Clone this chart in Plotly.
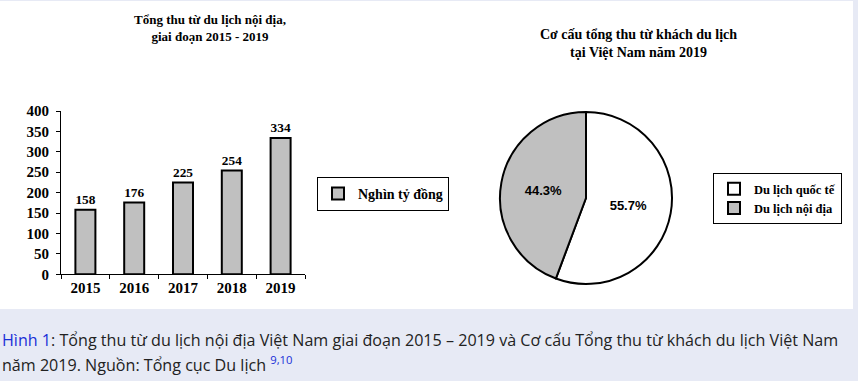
import plotly.graph_objects as go

W, H = 858, 381

years = ["2015", "2016", "2017", "2018", "2019"]
revenue = [158, 176, 225, 254, 334]
bar_series_name = "Nghìn tỷ đồng"

pie_labels = ["Du lịch quốc tế", "Du lịch nội địa"]
pie_values = [55.7, 44.3]
pie_colors = ["#ffffff", "#c0c0c0"]

y_ticks = [0, 50, 100, 150, 200, 250, 300, 350, 400]

bar_title = "Tổng thu từ du lịch nội địa,<br>giai đoạn 2015 - 2019"
pie_title = "Cơ cấu tổng thu từ khách du lịch<br>tại Việt Nam năm 2019"
caption_1 = ("<span style='color:#1a2fd8'>Hình 1</span>: Tổng thu từ du lịch nội địa Việt Nam "
             "giai đoạn 2015 – 2019 và Cơ cấu Tổng thu từ khách du lịch Việt Nam")
caption_2 = "năm 2019. Nguồn: Tổng cục Du lịch <sup><span style='color:#1a2fd8'>9,10</span></sup>"


def px_x(x):
    return x / W


def px_y(y):
    return 1 - y / H


SERIF = "Liberation Serif, Times New Roman, serif"
SANS = "Liberation Sans, Arial, sans-serif"
CAP = "Open Sans, Noto Sans, sans-serif"

fig = go.Figure()

fig.add_trace(go.Bar(
    x=years, y=revenue, name=bar_series_name,
    marker=dict(color="#c0c0c0", line=dict(color="black", width=2)),
    width=0.41,
    text=[str(v) for v in revenue], textposition="outside",
    textfont=dict(family=SERIF, size=14, color="black", weight="bold"),
    cliponaxis=False, showlegend=True, legend="legend",
    xaxis="x", yaxis="y",
))

fig.add_trace(go.Pie(
    labels=pie_labels, values=pie_values, sort=False, direction="clockwise", rotation=0,
    marker=dict(colors=pie_colors, line=dict(color="black", width=2)),
    texttemplate="%{percent:.1%}", textposition="inside", insidetextorientation="horizontal",
    textfont=dict(family=SANS, size=13, color="black", weight="bold"),
    domain=dict(x=[px_x(500), px_x(672)], y=[px_y(285), px_y(111)]),
    legend="legend2", hoverinfo="label+percent",
))

fig.update_layout(
    width=W, height=H,
    margin=dict(l=0, r=0, t=0, b=0, autoexpand=False),
    paper_bgcolor="#e7eaf5",
    plot_bgcolor="white",
    xaxis=dict(
        domain=[px_x(61), px_x(305)], type="category",
        showline=True, linecolor="black", linewidth=1,
        ticks="outside", tickson="boundaries", ticklen=4, tickcolor="black",
        tickfont=dict(family=SERIF, size=15, color="black", weight="bold"),
        showgrid=False, zeroline=False, anchor="y", automargin=False,
    ),
    yaxis=dict(
        domain=[px_y(274.3), px_y(111)], range=[0, 400],
        tickvals=y_ticks,
        showline=True, linecolor="black", linewidth=1,
        ticks="outside", ticklen=4, tickcolor="black",
        tickfont=dict(family=SERIF, size=15, color="black", weight="bold"),
        showgrid=False, zeroline=False, anchor="x", automargin=False,
        ticklabelstandoff=4,
    ),
    legend=dict(
        x=px_x(317), y=px_y(177), xanchor="left", yanchor="top",
        bgcolor="white", bordercolor="black", borderwidth=1,
        font=dict(family=SERIF, size=14, color="black", weight="bold"),
    ),
    legend2=dict(
        x=px_x(713), y=px_y(173), xanchor="left", yanchor="top",
        bgcolor="white", bordercolor="black", borderwidth=1,
        font=dict(family=SERIF, size=12.5, color="black", weight="bold"),
    ),
    shapes=[dict(type="rect", xref="paper", yref="paper",
                 x0=0, x1=px_x(853), y0=px_y(309), y1=px_y(1),
                 fillcolor="white", line=dict(width=0), layer="below")],
    annotations=[
        dict(text=bar_title, xref="paper", yref="paper", x=px_x(210), y=px_y(28),
             xanchor="center", yanchor="middle", showarrow=False,
             font=dict(family=SERIF, size=13, color="black", weight="bold")),
        dict(text=pie_title, xref="paper", yref="paper", x=px_x(638), y=px_y(44),
             xanchor="center", yanchor="middle", showarrow=False,
             font=dict(family=SERIF, size=14, color="black", weight="bold")),
        dict(text=caption_1, xref="paper", yref="paper", x=px_x(0), y=px_y(340),
             xanchor="left", yanchor="middle", showarrow=False,
             font=dict(family=CAP, size=16.1, color="#222222")),
        dict(text=caption_2, xref="paper", yref="paper", x=px_x(0), y=px_y(364),
             xanchor="left", yanchor="middle", showarrow=False,
             font=dict(family=CAP, size=16.1, color="#222222")),
    ],
)

fig.write_html(
    "out.html",
    config={"displayModeBar": False},
    post_script="document.body.style.margin='0';document.body.style.padding='0';"
                "document.body.style.background='#e7eaf5';",
)
